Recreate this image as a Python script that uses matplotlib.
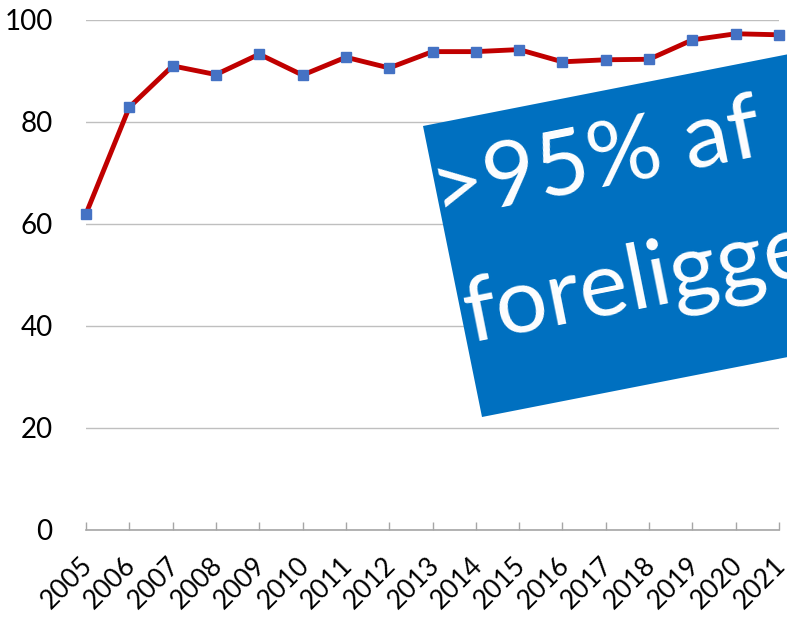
import numpy as np
import matplotlib.pyplot as plt
import matplotlib.transforms as mtransforms
from matplotlib.patches import Polygon

plt.rcParams['font.family'] = ['Lato', 'DejaVu Sans']

years = list(range(2005, 2022))
labels = [str(y) for y in years]
values = [62.0, 82.9, 91.0, 89.3, 93.3, 89.2, 92.7, 90.6, 93.8, 93.8, 94.2, 91.8, 92.2, 92.3, 96.1, 97.3, 97.1]

W, H = 787, 619
fig = plt.figure(figsize=(W / 100, H / 100), dpi=100)
ax = fig.add_axes([86 / W, (H - 530) / H, (779 - 86) / W, 510 / H])

x = np.arange(len(years))
ax.plot(x, values, color='#C00000', lw=3.5, marker='s', ms=6.5,
        mfc='#4472C4', mec='#4472C4', zorder=3, clip_on=False)

ax.set_xlim(0, len(years) - 1)
ax.set_ylim(0, 100)
ax.set_yticks([0, 20, 40, 60, 80, 100])
ax.grid(axis='y', color='#BFBFBF', lw=1)
ax.set_axisbelow(True)
for s in ['left', 'right', 'top']:
    ax.spines[s].set_visible(False)
ax.spines['bottom'].set_color('#A6A6A6')
ax.spines['bottom'].set_linewidth(1.2)
ax.tick_params(axis='y', length=0, pad=24, labelsize=20)
ax.tick_params(axis='x', direction='in', length=6, color='#A6A6A6', width=1,
               labelsize=19, pad=16)
ax.set_xticks(x)
ax.set_xticklabels(labels, rotation=45, ha='right', rotation_mode='anchor')
shift = mtransforms.ScaledTranslation(-6 / 100, 0, fig.dpi_scale_trans)
for lab in ax.get_xticklabels():
    lab.set_transform(lab.get_transform() + shift)

# rotated blue box (pixel coords, y measured from top)
ang = 11.3
corners = [(423, 126), (482, 417), (900, 335), (840, 44)]
pts = [(cx / W, (H - cy) / H) for cx, cy in corners]
fig.patches.append(Polygon(pts, closed=True, transform=fig.transFigure,
                           facecolor='#0070C0', edgecolor='none', zorder=5))
fig.text(438 / W, (H - 221) / H, '>95% af', color='white', fontsize=66,
         rotation=ang, rotation_mode='anchor', ha='left', va='baseline', zorder=6)
fig.text(470 / W, (H - 342) / H, 'foreligge', color='white', fontsize=66,
         rotation=ang, rotation_mode='anchor', ha='left', va='baseline', zorder=6)

fig.savefig('out.png', dpi=100)
